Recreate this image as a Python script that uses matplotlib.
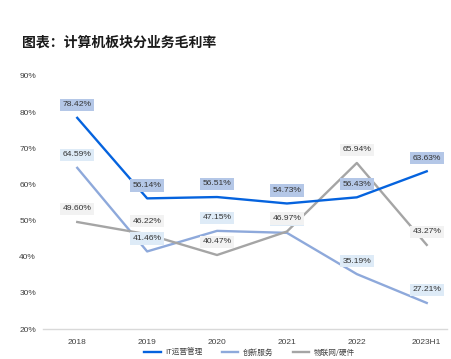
import matplotlib
matplotlib.use("Agg")
import matplotlib.pyplot as plt

plt.rcParams['font.family'] = ['Liberation Sans', 'Noto Sans CJK SC', 'DejaVu Sans']

categories = ["2018", "2019", "2020", "2021", "2022", "2023H1"]
series_names = ["IT运营管理", "创新服务", "物联网/硬件"]
ops = [78.42, 56.14, 56.51, 54.73, 56.43, 63.63]
innov = [64.59, 41.46, 47.15, 46.60, 35.19, 27.21]
iot = [49.60, 46.22, 40.47, 46.97, 65.94, 43.27]
yticks = [20, 30, 40, 50, 60, 70, 80, 90]

line_colors = ["#0563DE", "#8EA9DB", "#A5A5A5"]
box_colors = ["#B4C7E7", "#DEEBF7", "#F2F2F2"]

fig = plt.figure(figsize=(4.51, 3.59), dpi=100)
ax = fig.add_axes([43/451, 1-329/359, (447-43)/451, (329-76)/359])

x = list(range(len(categories)))
all_series = [ops, innov, iot]
zs = [3, 2, 2.5]
for i, (vals, name) in enumerate(zip(all_series, series_names)):
    ax.plot(x, vals, color=line_colors[i], lw=1.7, label=name, zorder=zs[i])

# labels: light blue first, then dark blue, then gray (gray on top covers overlap at 2021)
order = [1, 0, 2]
z = 10
for i in order:
    vals = all_series[i]
    for xi, v in zip(x, vals):
        ax.annotate(f"{v:.2f}%", (xi, v), xytext=(0, 9.4), textcoords='offset points',
                    ha='center', va='center', fontsize=6.1, color='#333333',
                    bbox=dict(boxstyle='square,pad=0.32', fc=box_colors[i], ec='none'),
                    zorder=z)
        z += 1

ax.set_xlim(-0.49, 5.29)
ax.set_ylim(20, 90)
ax.set_yticks(yticks)
ax.set_yticklabels([f"{t}%" for t in yticks])
ax.set_xticks(x)
ax.set_xticklabels(categories)
ax.tick_params(length=0, labelsize=6.0, colors='#404040')
ax.tick_params(axis='x', pad=7)
ax.tick_params(axis='y', pad=5)
for s in ['top', 'right', 'left']:
    ax.spines[s].set_visible(False)
ax.spines['bottom'].set_color('#D9D9D9')
ax.spines['bottom'].set_linewidth(1.0)

fig.text(22/451, 1-43/359, "图表：计算机板块分业务毛利率", fontsize=10, fontweight='bold',
         family=['Noto Sans CJK SC'], va='center', ha='left', color='#1a1a1a')

fig.legend(loc='center', bbox_to_anchor=(0.553, 1-353/359), ncol=3, frameon=False,
           handlelength=2.2, columnspacing=2.5, handletextpad=0.6, labelcolor='#404040',
           prop={'family': ['Noto Sans CJK SC'], 'size': 5.5})

fig.savefig("out.png", dpi=100)
